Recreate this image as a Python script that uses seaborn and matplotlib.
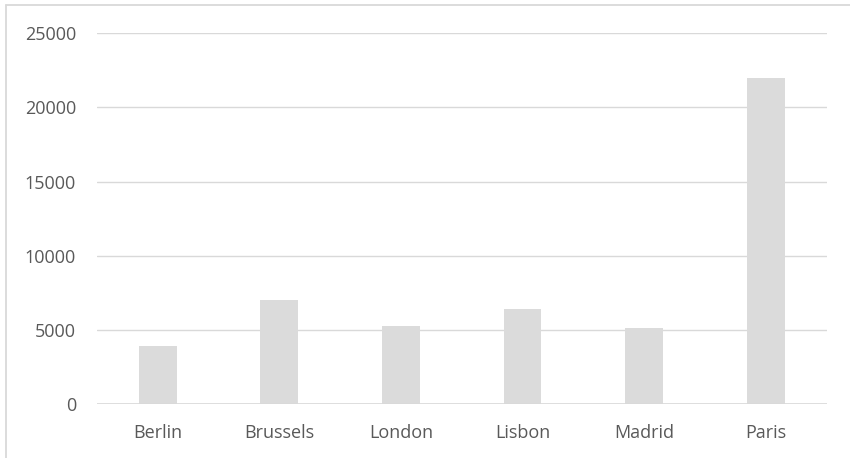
import matplotlib
matplotlib.use("Agg")
import matplotlib.pyplot as plt
import seaborn as sns
import pandas as pd
from matplotlib.lines import Line2D

cities = ["Berlin", "Brussels", "London", "Lisbon", "Madrid", "Paris"]
values = [3950, 7000, 5300, 6420, 5150, 22000]
y_ticks = [0, 5000, 10000, 15000, 20000, 25000]

sns.set_theme(style="white")
plt.rcParams["font.family"] = ["Open Sans", "DejaVu Sans"]

df = pd.DataFrame({"city": cities, "value": values})

fig = plt.figure(figsize=(8.5, 4.58), dpi=100)
ax = fig.add_axes([0.114, 0.1172, 0.8586, 0.8108])

sns.barplot(data=df, x="city", y="value", color="#DBDBDB", saturation=1,
            width=0.31, linewidth=0, ax=ax, zorder=3)

ax.set_ylim(0, 25000)
ax.set_yticks(y_ticks)
ax.set_yticklabels([str(v) for v in y_ticks])
ax.set_xlim(-0.5, len(cities) - 0.5)
ax.grid(axis="y", color="#D9D9D9", linewidth=1.0, zorder=0)
ax.set_axisbelow(True)
for s in ax.spines.values():
    s.set_visible(False)
ax.axhline(0, color="#D9D9D9", linewidth=1.2, zorder=4)

ax.set_xlabel("")
ax.set_ylabel("")
ax.tick_params(axis="both", length=0, labelsize=13, colors="#595959")
ax.tick_params(axis="y", pad=15)
ax.tick_params(axis="x", pad=14)

# chart frame along top and left edges
fig.add_artist(Line2D([5.5 / 850, 1.0], [1 - 4.5 / 458, 1 - 4.5 / 458],
                      color="#D9D9D9", linewidth=1.3, transform=fig.transFigure))
fig.add_artist(Line2D([5.5 / 850, 5.5 / 850], [0.0, 1 - 4.5 / 458],
                      color="#D9D9D9", linewidth=1.3, transform=fig.transFigure))

fig.savefig("out.png", dpi=100, facecolor="white")
